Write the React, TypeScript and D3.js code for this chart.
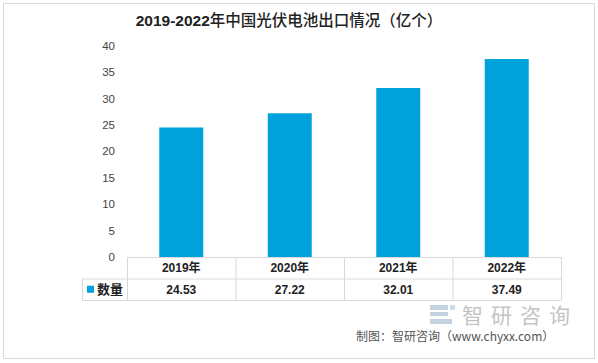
import React from 'react';
import * as d3 from 'd3';

const titleYears = '2019-2022';
const titleText = '年中国光伏电池出口情况（亿个）';
const categories = ['2019年', '2020年', '2021年', '2022年'];
const seriesName = '数量';
const values = [24.53, 27.22, 32.01, 37.49];
const yTicks = [0, 5, 10, 15, 20, 25, 30, 35, 40];

const W = 598;
const H = 363;
const plotLeft = 127;
const plotRight = 561;
const plotTop = 45.8;
const plotBottom = 257;
const rowH = 21.5;
const tableLeft = 82;
const barColor = '#00a2dc';
const lineColor = '#d9d9d9';

const App = () => {
  const x = d3.scaleBand().domain(categories).range([plotLeft, plotRight]).paddingInner(0).paddingOuter(0);
  const y = d3.scaleLinear().domain([0, 40]).range([plotBottom, plotTop]);
  const barW = 44;
  const font = '"Liberation Sans", "Noto Sans CJK SC", sans-serif';
  const cols = [plotLeft, ...categories.map(c => (x(c) as number) + x.bandwidth())];

  return (
    <svg width={W} height={H} style={{ position: 'absolute', left: 0, top: 0, background: '#fff' }}>
      <rect x={3.5} y={3.5} width={591} height={355} fill="#fff" stroke={lineColor} />
      <text x={289} y={26} textAnchor="middle" fontSize={15.5} fill="#222" fontFamily={font}>
        <tspan fontWeight="bold">{titleYears}</tspan>
        <tspan fontWeight="500">{titleText}</tspan>
      </text>

      {yTicks.map(t => (
        <text key={t} x={115} y={y(t)} dy="0.35em" textAnchor="end" fontSize={11.5} fill="#444" fontFamily={font}>{t}</text>
      ))}

      {categories.map((c, i) => (
        <rect key={c} x={(x(c) as number) + (x.bandwidth() - barW) / 2} y={y(values[i])}
          width={barW} height={y(0) - y(values[i])} fill={barColor} />
      ))}

      {/* data table */}
      <g stroke={lineColor} strokeWidth={1} fill="none">
        <line x1={plotLeft} x2={plotRight} y1={plotBottom + 0.5} y2={plotBottom + 0.5} />
        <line x1={tableLeft} x2={plotRight} y1={plotBottom + rowH + 0.5} y2={plotBottom + rowH + 0.5} />
        <line x1={tableLeft} x2={plotRight} y1={plotBottom + 2 * rowH + 0.5} y2={plotBottom + 2 * rowH + 0.5} />
        <line x1={tableLeft + 0.5} x2={tableLeft + 0.5} y1={plotBottom + rowH} y2={plotBottom + 2 * rowH} />
        {cols.map((cx, i) => (
          <line key={i} x1={cx + 0.5} x2={cx + 0.5} y1={plotBottom} y2={plotBottom + 2 * rowH} />
        ))}
      </g>
      {categories.map((c, i) => (
        <g key={c} fontFamily={font} fontSize={12} fontWeight="bold" fill="#222" textAnchor="middle">
          <text x={(x(c) as number) + x.bandwidth() / 2} y={plotBottom + rowH / 2} dy="0.38em">{c}</text>
          <text x={(x(c) as number) + x.bandwidth() / 2} y={plotBottom + rowH * 1.5} dy="0.38em">{values[i].toFixed(2)}</text>
        </g>
      ))}
      <rect x={87} y={plotBottom + rowH * 1.5 - 3.5} width={7} height={7} fill={barColor} />
      <text x={97} y={plotBottom + rowH * 1.5} dy="0.38em" fontSize={13} fontWeight="bold" fill="#222"
        fontFamily={font}>{seriesName}</text>

      {/* watermark */}
      <g opacity={0.35}>
        <rect x={430} y={305} width={18} height={5} fill="#5b7fa6" />
        <rect x={430} y={312} width={18} height={4} fill="#5b7fa6" />
        <rect x={430} y={319} width={22} height={5} fill="#5b7fa6" />
        <rect x={450} y={305} width={5} height={5} fill="#5b9fd6" />
        <text x={462} y={323} fontSize={21} fill="#555" letterSpacing={8}
          fontFamily='"Noto Sans CJK SC", sans-serif'>智研咨询</text>
      </g>
      <text x={356} y={341} fontSize={12} fill="#555" fontFamily='"Noto Sans CJK SC", sans-serif'>
        制图：智研咨询（www.chyxx.com）
      </text>
    </svg>
  );
};

export default App;
